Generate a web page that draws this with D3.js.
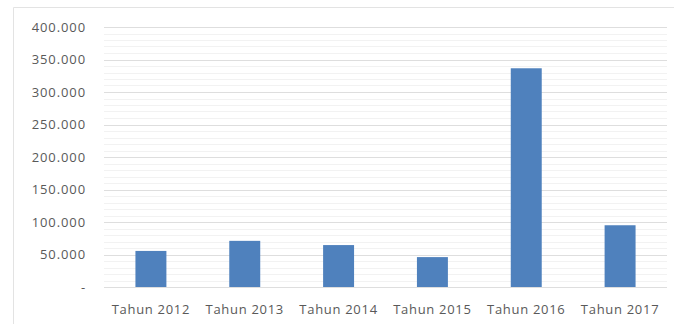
<!DOCTYPE html>
<html>
<head>
<meta charset="utf-8">
<script src="https://cdn.jsdelivr.net/npm/d3@7"></script>
<style>
  body { margin: 0; background: #fff; }
  text { font-family: "Open Sans", sans-serif; fill: #595959; }
</style>
</head>
<body>
<svg width="674" height="324"></svg>
<script>
// data
var categories = ["Tahun 2012", "Tahun 2013", "Tahun 2014", "Tahun 2015", "Tahun 2016", "Tahun 2017"];
var values = [55500, 71000, 64500, 46000, 336500, 95000];
var yTicks = [0, 50000, 100000, 150000, 200000, 250000, 300000, 350000, 400000];

var svg = d3.select("svg"),
  margin = { left: 104, right: 7, top: 27, bottom: 37 },
  width = 674 - margin.left - margin.right,
  height = 324 - margin.top - margin.bottom;

// chart frame
svg.append("path")
  .attr("d", "M13.5,324 V7.5 H674")
  .attr("fill", "none")
  .attr("stroke", "#e3e3e3");

var g = svg.append("g").attr("transform", "translate(" + margin.left + "," + margin.top + ")");

var x = d3.scaleBand().domain(categories).range([0, width]).paddingInner(0.67).paddingOuter(0.335);
var y = d3.scaleLinear().domain([0, 400000]).range([height, 0]);

// minor grid
g.append("g").selectAll("line")
  .data(d3.range(10000, 400000, 10000).filter(function (v) { return v % 50000 !== 0; }))
  .enter().append("line")
  .attr("x1", 0).attr("x2", width)
  .attr("y1", function (d) { return Math.round(y(d)) + 0.5; })
  .attr("y2", function (d) { return Math.round(y(d)) + 0.5; })
  .attr("stroke", "#f2f2f2");

// major grid
g.append("g").selectAll("line")
  .data(yTicks)
  .enter().append("line")
  .attr("x1", 0).attr("x2", width)
  .attr("y1", function (d) { return Math.round(y(d)) + 0.5; })
  .attr("y2", function (d) { return Math.round(y(d)) + 0.5; })
  .attr("stroke", "#dedede");

// bars
g.selectAll(".bar")
  .data(values)
  .enter().append("rect")
  .attr("class", "bar")
  .attr("x", function (d, i) { return x(categories[i]); })
  .attr("width", x.bandwidth())
  .attr("y", function (d) { return y(d); })
  .attr("height", function (d) { return height - y(d); })
  .attr("fill", "#4f81bd");

// y labels
var fmt = function (d) { return d === 0 ? "-" : d3.format(",")(d).replace(/,/g, "."); };
g.append("g").selectAll("text")
  .data(yTicks)
  .enter().append("text")
  .attr("x", -18)
  .attr("y", function (d) { return y(d); })
  .attr("dy", "0.35em")
  .attr("text-anchor", "end")
  .style("font-size", "13px")
  .style("letter-spacing", "0.9px")
  .text(fmt);

// x labels
g.append("g").selectAll("text")
  .data(categories)
  .enter().append("text")
  .attr("x", function (d) { return x(d) + x.bandwidth() / 2; })
  .attr("y", height + 27)
  .attr("text-anchor", "middle")
  .style("font-size", "13px")
  .style("letter-spacing", "0.7px")
  .text(function (d) { return d; });
</script>
</body>
</html>
